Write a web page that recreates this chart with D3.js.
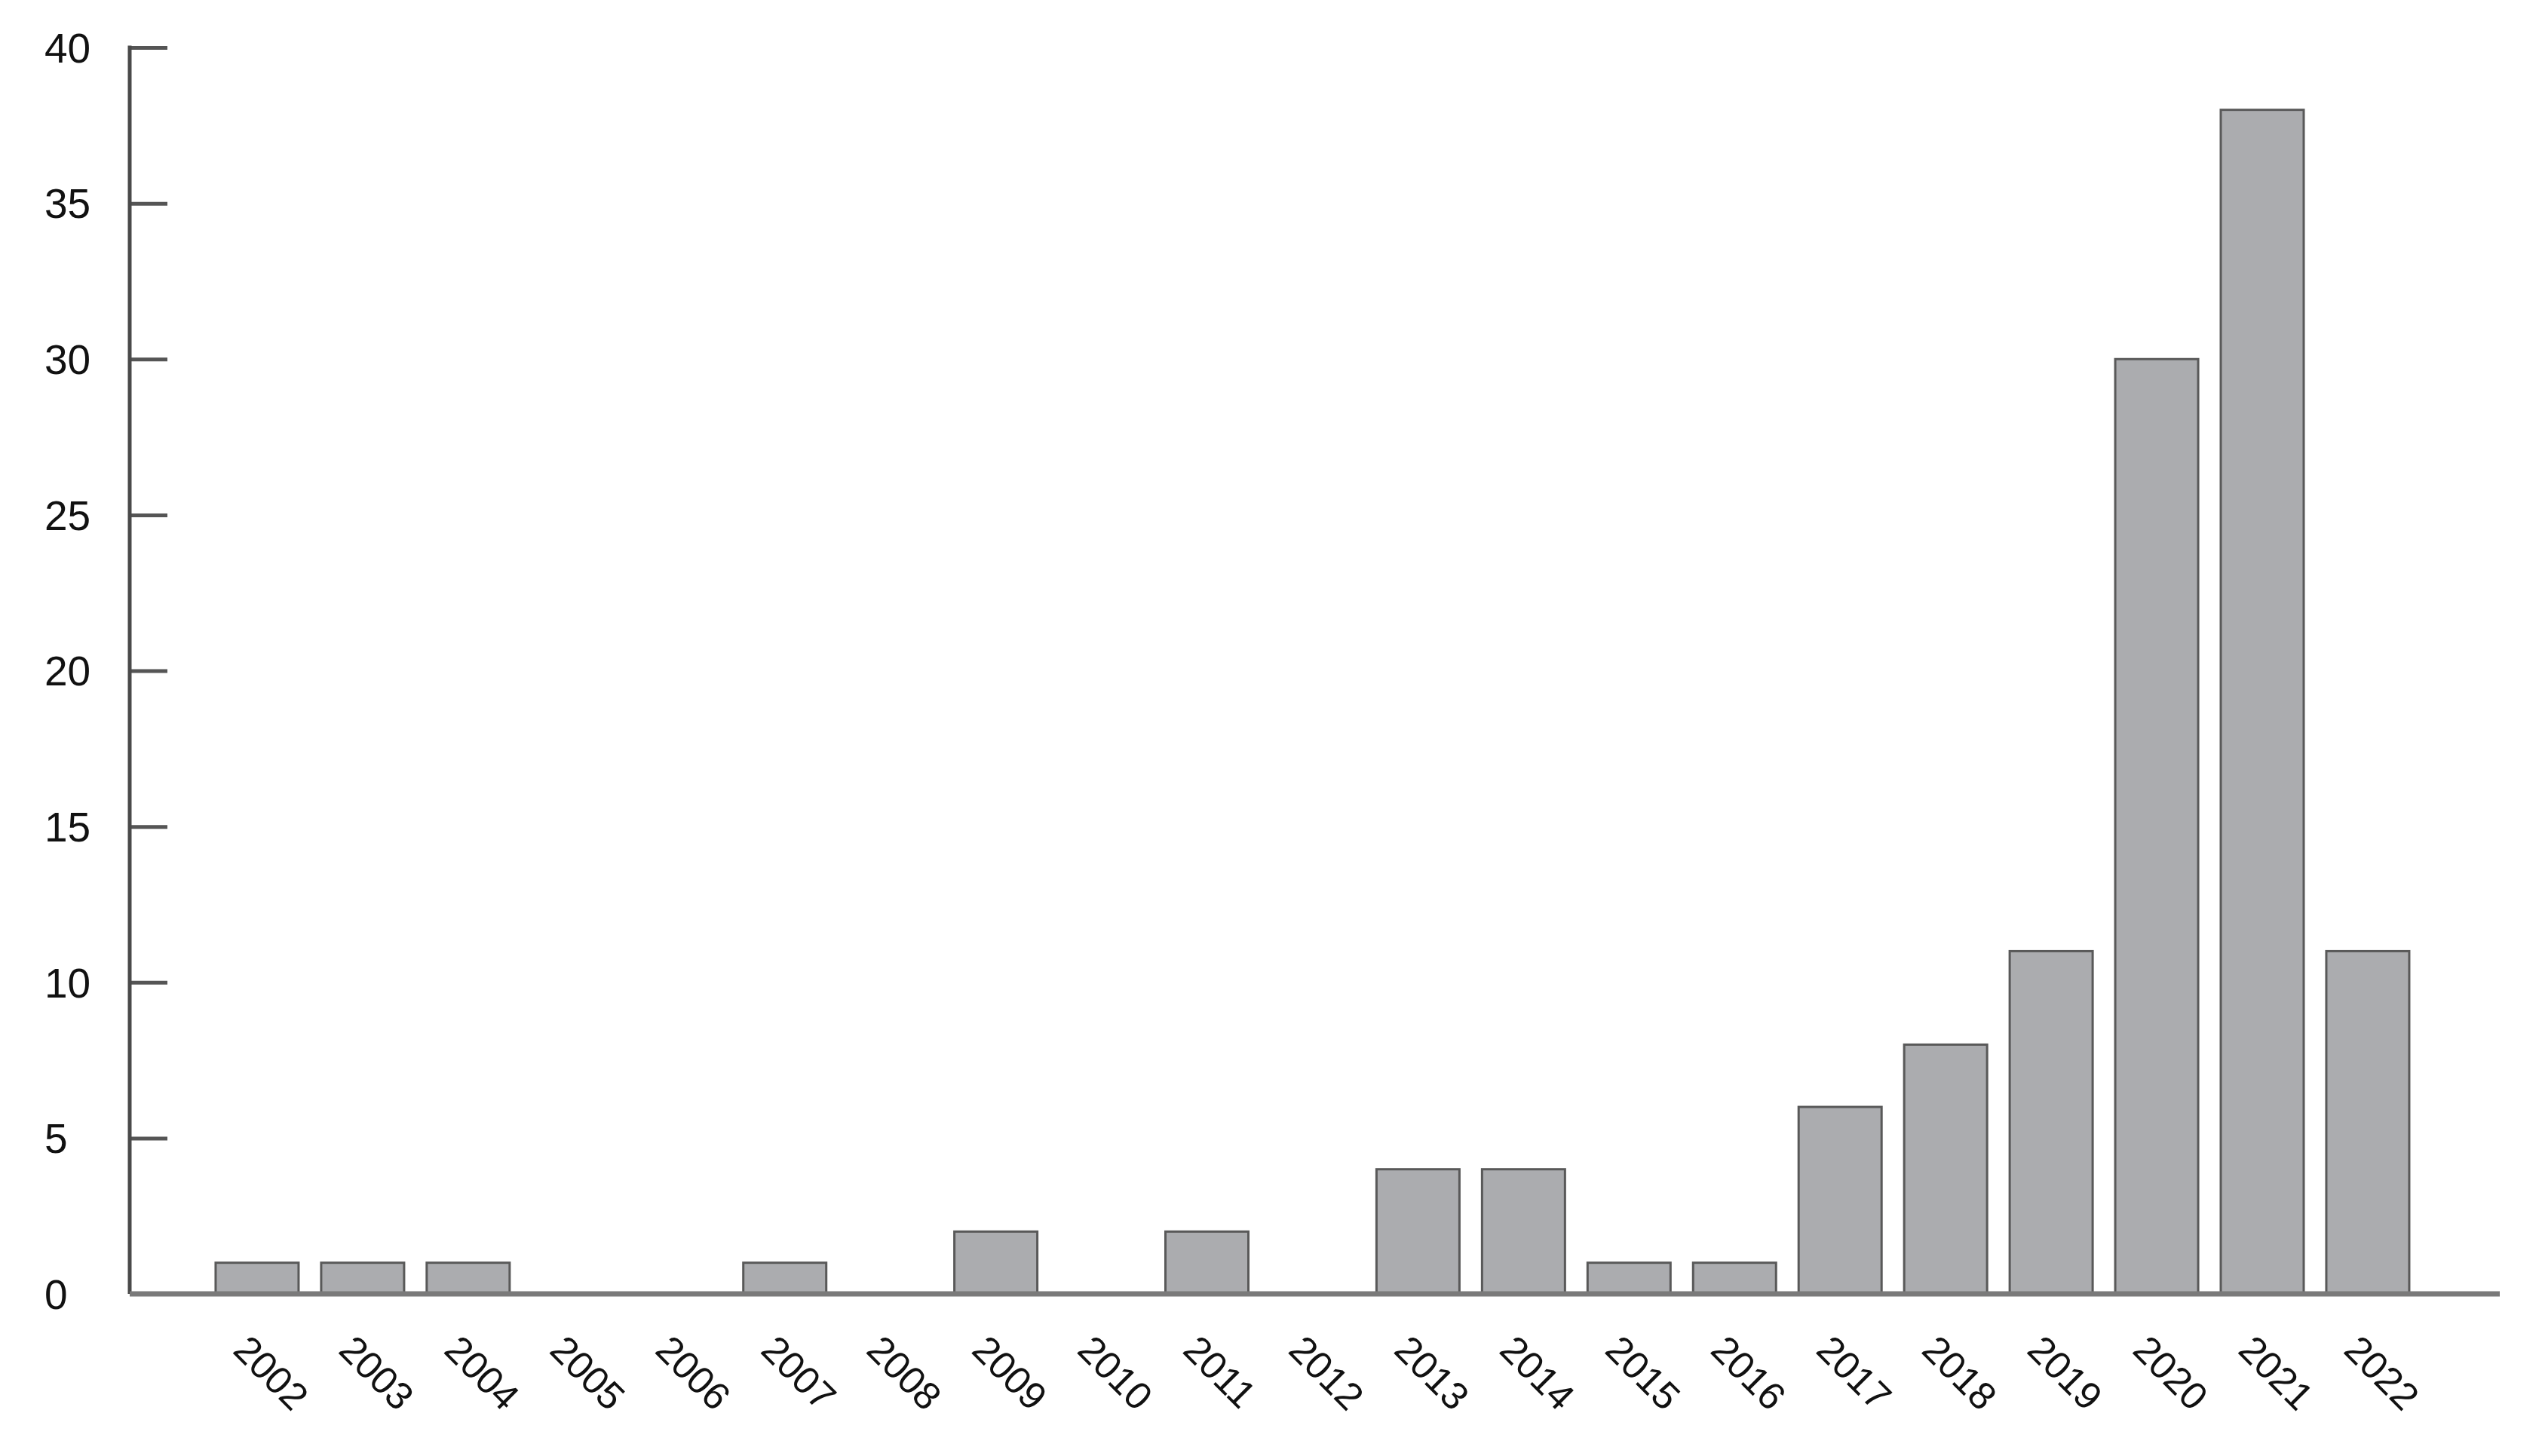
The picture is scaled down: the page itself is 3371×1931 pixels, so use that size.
<!DOCTYPE html>
<html>
<head>
<meta charset="utf-8">
<script src="https://cdn.jsdelivr.net/npm/d3@7"></script>
<style>
  html, body { margin: 0; padding: 0; background: #fff; }
  svg { display: block; }
</style>
</head>
<body>
<svg id="chart" width="3371" height="1931"></svg>
<script>
const years = ["2002","2003","2004","2005","2006","2007","2008","2009","2010","2011","2012","2013","2014","2015","2016","2017","2018","2019","2020","2021","2022"];
const counts = [1,1,1,0,0,1,0,2,0,2,0,4,4,1,1,6,8,11,30,38,11];
const yTicks = [0,5,10,15,20,25,30,35,40];

const svg = d3.select("#chart");
const x0 = 172, x1 = 3315, yBase = 1716, yTop = 63;

const x = d3.scaleBand().domain(years).range([x0, x1])
  .paddingInner(0.214).paddingOuter(0.836).align(0.487);
const y = d3.scaleLinear().domain([0, 40]).range([yBase, yTop]);

// Bars
svg.append("g").selectAll("rect")
  .data(years.map((yr, i) => ({yr, v: counts[i]})).filter(d => d.v > 0))
  .join("rect")
  .attr("x", d => x(d.yr))
  .attr("y", d => y(d.v))
  .attr("width", x.bandwidth())
  .attr("height", d => y(0) - y(d.v))
  .attr("fill", "#abacaf")
  .attr("stroke", "#595959")
  .attr("stroke-width", 3);

// Y axis (ticks pointing inward)
const yAxis = d3.axisRight(y).tickValues(yTicks).tickSize(50).tickFormat("");
const gy = svg.append("g").attr("transform", `translate(${x0},0)`).call(yAxis);
gy.select(".domain").remove();
gy.selectAll(".tick line").attr("stroke", "#555").attr("stroke-width", 5);
svg.append("line")
  .attr("x1", x0).attr("x2", x0).attr("y1", yTop - 2.5).attr("y2", yBase)
  .attr("stroke", "#4a4a4a").attr("stroke-width", 5);

// Y labels (left-aligned)
svg.append("g").selectAll("text")
  .data(yTicks)
  .join("text")
  .attr("x", 59)
  .attr("y", d => y(d))
  .attr("dy", "0.36em")
  .attr("text-anchor", "start")
  .attr("font-family", "'Liberation Sans', Arial, Helvetica, sans-serif")
  .attr("font-size", 55)
  .attr("fill", "#111")
  .text(d => d);

// X axis line
const xAxis = d3.axisBottom(x).tickSize(0).tickFormat("");
const gx = svg.append("g").attr("transform", `translate(0,${yBase})`).call(xAxis);
gx.select(".domain").attr("stroke", "#7a7a7a").attr("stroke-width", 7).attr("d", `M${x0},0H${x1}`);

// X labels rotated
svg.append("g").selectAll("text")
  .data(years)
  .join("text")
  .attr("transform", d => `translate(${x(d) + x.bandwidth()/2 - 34},${yBase + 77}) rotate(45)`)
  .attr("text-anchor", "start")
  .attr("font-family", "'Liberation Sans', Arial, Helvetica, sans-serif")
  .attr("font-size", 51)
  .attr("fill", "#111")
  .text(d => d);
</script>
</body>
</html>
